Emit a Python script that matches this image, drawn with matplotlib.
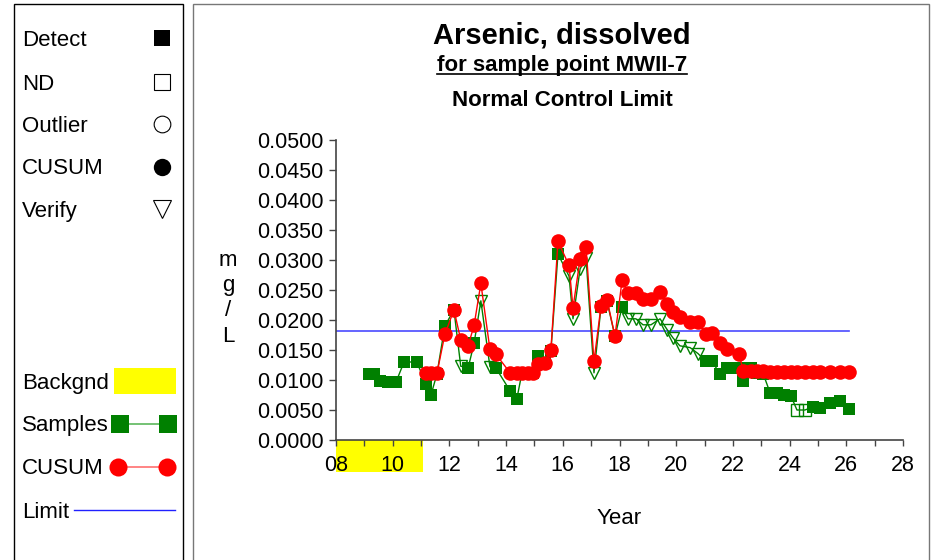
import matplotlib
matplotlib.use("Agg")
import matplotlib.pyplot as plt
import numpy as np
from matplotlib.lines import Line2D
from matplotlib.patches import Rectangle
from matplotlib.ticker import MultipleLocator, FuncFormatter

plt.rcParams['font.family'] = ['Liberation Sans', 'DejaVu Sans']

# sample dates (years after 2000), background period first
dates = [9.16, 9.35, 9.55, 9.85, 10.12, 10.40, 10.85,
         11.17, 11.35, 11.56, 11.84, 12.16, 12.40, 12.66, 12.87, 13.11, 13.43, 13.64,
         14.14, 14.38, 14.56, 14.77, 14.95, 15.13, 15.37, 15.58, 15.83, 16.22, 16.36,
         16.61, 16.82, 17.10, 17.35, 17.56, 17.84, 18.09, 18.30, 18.58, 18.83, 19.11,
         19.43, 19.68, 19.89, 20.13, 20.49, 20.77, 21.05, 21.26, 21.55, 21.79, 22.22,
         22.36, 22.64, 22.85, 23.07, 23.31, 23.56, 23.80, 24.05, 24.26, 24.54, 24.83,
         25.07, 25.43, 25.78, 26.10]
samples = [0.0110, 0.0110, 0.0098, 0.0097, 0.0097, 0.0130, 0.0130,
           0.0094, 0.0075, 0.0110, 0.0190, 0.0217, 0.0123, 0.0120, 0.0161, 0.0232, 0.0122, 0.0120,
           0.0082, 0.0069, 0.0112, 0.0112, 0.0112, 0.0140, 0.0128, 0.0148, 0.0310, 0.0273, 0.0202,
           0.0285, 0.0303, 0.0112, 0.0222, 0.0231, 0.0173, 0.0221, 0.0202, 0.0202, 0.0192, 0.0192,
           0.0202, 0.0184, 0.0170, 0.0157, 0.0154, 0.0144, 0.0131, 0.0131, 0.0110, 0.0120, 0.0120,
           0.0099, 0.0120, 0.0112, 0.0110, 0.0079, 0.0079, 0.0075, 0.0073, 0.0050, 0.0050, 0.0055,
           0.0054, 0.0062, 0.0065, 0.0052]
# D = detect, N = non-detect, V = verify
flags = list("DDDDDDD"
             "DDDDDVDDVVD"
             "DDDDDDDDDVVVVVDDDDVVVVVVVVVVDDDDD"
             "DDDDDDDDNNDDDDD")
cusum = [np.nan] * 7 + [
    0.0111, 0.0111, 0.0111, 0.0176, 0.0217, 0.0167, 0.0157, 0.0191, 0.0261, 0.0151, 0.0143,
    0.0112, 0.0112, 0.0112, 0.0112, 0.0112, 0.0126, 0.0129, 0.0150, 0.0331, 0.0291, 0.0220,
    0.0302, 0.0322, 0.0131, 0.0224, 0.0234, 0.0173, 0.0266, 0.0245, 0.0245, 0.0235, 0.0235,
    0.0246, 0.0226, 0.0214, 0.0205, 0.0197, 0.0197, 0.0176, 0.0179, 0.0162, 0.0151, 0.0144,
    0.0115, 0.0115, 0.0115, 0.0115, 0.0113, 0.0113, 0.0113, 0.0113, 0.0113, 0.0113, 0.0113,
    0.0113, 0.0113, 0.0113, 0.0113]
limit = 0.0181
bg_end = 11.07

dates = np.array(dates)
samples = np.array(samples)
cusum = np.array(cusum)
flags = np.array(flags)

GREEN = '#008000'
RED = '#ff0000'
BLUE = '#4a4aff'
FS = 16

fig = plt.figure(figsize=(9.4, 5.6), dpi=100)
W, H = 940.0, 560.0


def fx(px):
    return px / W


def fy(py):
    return 1 - py / H


# panel frames
fig.patches.append(Rectangle((fx(14), -0.05), fx(183) - fx(14), fy(4) + 0.05,
                             transform=fig.transFigure, fill=False, ec='black', lw=1.0))
fig.patches.append(Rectangle((fx(193), -0.05), fx(929) - fx(193), fy(4) + 0.05,
                             transform=fig.transFigure, fill=False, ec='#777777', lw=1.0))

ax = fig.add_axes([fx(336), fy(440), fx(903) - fx(336), fy(140) - fy(440)])

# samples line and markers
ax.plot(dates, samples, '-', color=GREEN, lw=1.0, zorder=2)
d = flags == 'D'
ax.plot(dates[d], samples[d], 's', color=GREEN, ms=9, mew=0, zorder=3)
n = flags == 'N'
ax.plot(dates[n], samples[n], 's', mfc='none', mec=GREEN, ms=8.5, mew=1.0, zorder=3)
v = flags == 'V'
ax.plot(dates[v], samples[v], 'v', mfc='none', mec=GREEN, ms=9, mew=1.0, zorder=3)

# cusum
ax.plot(dates, cusum, '-o', color=RED, lw=1.0, ms=10.5, mew=0, zorder=4)

# control limit
ax.plot([8, dates[-1]], [limit, limit], color=BLUE, lw=1.2, zorder=1)

# background period marked below the axis
ax.add_patch(Rectangle((8, -0.107), bg_end - 8, 0.107, transform=ax.get_xaxis_transform(),
                       facecolor='#ffff00', edgecolor='none', clip_on=False, zorder=0))

ax.set_xlim(8, 28)
ax.set_ylim(0, 0.05)
ax.xaxis.set_major_locator(MultipleLocator(2))
ax.xaxis.set_minor_locator(MultipleLocator(1))
ax.xaxis.set_major_formatter(FuncFormatter(lambda val, pos: '%02d' % int(round(val))))
ax.yaxis.set_major_locator(MultipleLocator(0.005))
ax.yaxis.set_major_formatter(FuncFormatter(lambda val, pos: '%.4f' % val))
for side in ['top', 'right']:
    ax.spines[side].set_visible(False)
for side in ['left', 'bottom']:
    ax.spines[side].set_color('#444444')
    ax.spines[side].set_linewidth(1.2)
ax.tick_params(axis='both', which='both', direction='out', color='#444444', width=1.0,
               labelsize=15.5, labelcolor='black')
ax.tick_params(axis='x', which='both', length=4, pad=7)
ax.tick_params(axis='y', length=5, pad=4)
ax.set_facecolor('none')

# titles
fig.text(fx(562), fy(35), 'Arsenic, dissolved', ha='center', va='center',
         fontsize=21, fontweight='bold')
sub = fig.text(fx(562), fy(65), 'for sample point MWII-7', ha='center', va='center',
               fontsize=FS, fontweight='bold')
fig.canvas.draw()
bb = sub.get_window_extent().transformed(fig.transFigure.inverted())
fig.add_artist(Line2D([bb.x0, bb.x1], [bb.y0 + 0.002, bb.y0 + 0.002],
                      transform=fig.transFigure, color='black', lw=1.2))
fig.text(fx(562), fy(100), 'Normal Control Limit', ha='center', va='center',
         fontsize=FS, fontweight='bold')

# axis labels
for i, ch in enumerate(['m', 'g', '/', 'L']):
    fig.text(fx(228), fy(261 + i * 25), ch, ha='center', va='center', fontsize=FS)
fig.text(fx(619), fy(519), 'Year', ha='center', va='center', fontsize=FS)

# legend panel: symbol key
keys = [('Detect', 38, dict(marker='s', mfc='black', mec='black', ms=11.5, mew=0)),
        ('ND', 82, dict(marker='s', mfc='white', mec='black', ms=11, mew=0.8)),
        ('Outlier', 124, dict(marker='o', mfc='white', mec='black', ms=12, mew=0.8)),
        ('CUSUM', 167, dict(marker='o', mfc='black', mec='black', ms=12.5, mew=0)),
        ('Verify', 209, dict(marker='v', mfc='white', mec='black', ms=13, mew=0.8))]
for label, py, style in keys:
    fig.text(fx(22), fy(py + 2), label, ha='left', va='center', fontsize=FS)
    fig.add_artist(Line2D([fx(162)], [fy(py)], transform=fig.transFigure, ls='none', **style))

# legend panel: series key
fig.text(fx(22), fy(384), 'Backgnd', ha='left', va='center', fontsize=FS)
fig.patches.append(Rectangle((fx(114), fy(394)), fx(176) - fx(114), fy(368) - fy(394),
                             transform=fig.transFigure, facecolor='#ffff00', edgecolor='none'))
fig.text(fx(22), fy(426), 'Samples', ha='left', va='center', fontsize=FS)
fig.add_artist(Line2D([fx(120), fx(168)], [fy(424), fy(424)], transform=fig.transFigure,
                      color='#5cb85c', lw=1.2, marker='s', mfc=GREEN, mec=GREEN, ms=12.5, mew=0))
fig.text(fx(22), fy(469), 'CUSUM', ha='left', va='center', fontsize=FS)
fig.add_artist(Line2D([fx(118), fx(167)], [fy(467), fy(467)], transform=fig.transFigure,
                      color='#ff7070', lw=1.2, marker='o', mfc=RED, mec=RED, ms=13, mew=0))
fig.text(fx(22), fy(512), 'Limit', ha='left', va='center', fontsize=FS)
fig.add_artist(Line2D([fx(74), fx(175)], [fy(510), fy(510)], transform=fig.transFigure,
                      color='#2020ff', lw=1.0))

fig.savefig('out.png', dpi=100)
